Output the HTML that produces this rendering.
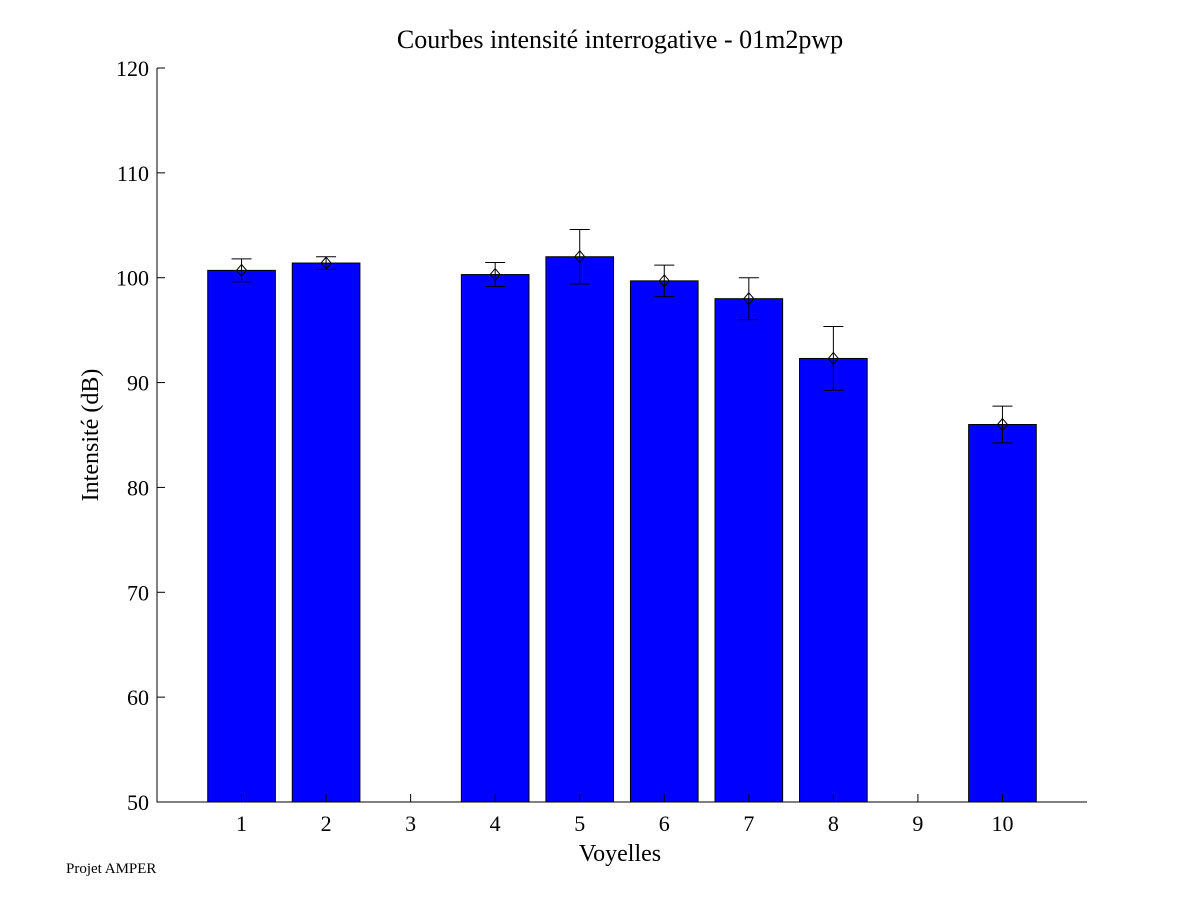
<!DOCTYPE html>
<html><head><meta charset="utf-8"><style>
body{margin:0;background:#fff;}
svg{display:block;font-family:"Liberation Serif",serif;}
</style></head><body>
<svg id="c" width="1201" height="901">
<text x="620" y="48" font-size="26" text-anchor="middle">Courbes intensité interrogative - 01m2pwp</text>
<text x="66" y="873" font-size="15">Projet AMPER</text>
<text x="620" y="861" font-size="24" text-anchor="middle">Voyelles</text>
<text transform="translate(98,435) rotate(-90)" font-size="24" text-anchor="middle">Intensité (dB)</text>
<g id="plot"></g>
</svg>
<script>
const categories=[1,2,3,4,5,6,7,8,9,10];
const values=[100.7,101.4,null,100.3,102.0,99.7,98.0,92.3,null,86.0];
const errors=[1.1,0.6,null,1.15,2.6,1.5,2.0,3.05,null,1.75];
const yTicks=[50,60,70,80,90,100,110,120];
const NS="http://www.w3.org/2000/svg";
const X0=157,X1=1087,Y0=802,Y1=68;
const xs=v=>X0+(X1-X0)*v/11;
const ys=v=>Y0-(Y0-Y1)*(v-50)/70;
const g=document.getElementById('plot');
function mk(t,a){const e=document.createElementNS(NS,t);for(const k in a)e.setAttribute(k,a[k]);g.appendChild(e);return e;}
values.forEach((v,i)=>{
 if(v==null)return;
 const c=categories[i],hw=(xs(0.4)-xs(0));
 const b=mk('rect',{x:xs(c)-hw,y:ys(v),width:2*hw,height:ys(50)-ys(v),fill:'#0000ff',stroke:'#000','stroke-width':1});
 
 
 const e=errors[i],x=xs(c),t=ys(v+e),bo=ys(v-e);
 const eb=mk('path',{d:`M${x},${t}V${bo}M${x-10},${t}H${x+10}M${x-10},${bo}H${x+10}M${x},${ys(v)-6}L${x+5},${ys(v)}L${x},${ys(v)+6}L${x-5},${ys(v)}Z`,fill:'none',stroke:'#000','stroke-width':1});
 
 
});
const ax=mk('path',{d:`M${X0},${Y1}V${Y0}H${X1}`,fill:'none',stroke:'#000','stroke-width':1});


yTicks.forEach(t=>{
 const y=ys(t);
 const tk=mk('line',{x1:X0,x2:X0+8,y1:y,y2:y,stroke:'#000'});
 
 
 const l=mk('text',{x:X0-8,y:y+8,'font-size':22,'text-anchor':'end'});
 l.textContent=t;
 
 
});
categories.forEach(c=>{
 const x=xs(c);
 const tk=mk('line',{x1:x,x2:x,y1:Y0,y2:Y0-8,stroke:'#000'});
 
 
 const l=mk('text',{x:x,y:Y0+29,'font-size':22,'text-anchor':'middle'});
 l.textContent=c;
 
 
});
</script>
</body></html>
